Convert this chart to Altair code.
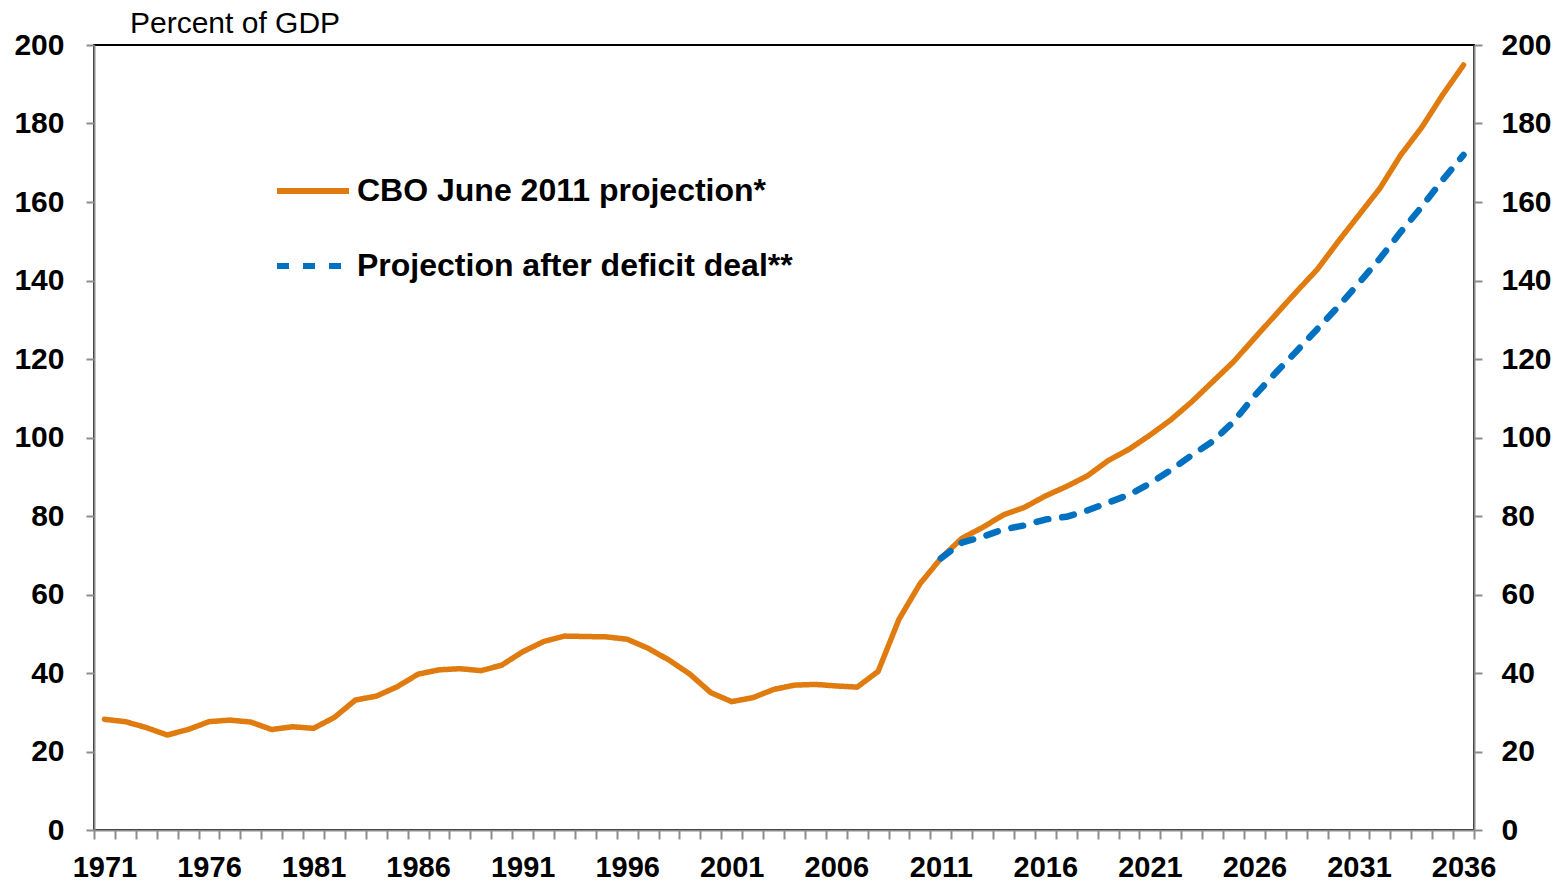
import altair as alt
import pandas as pd

years = list(range(1971, 2037))
cbo = [28.2, 27.6, 26.1, 24.2, 25.6, 27.6, 28.0, 27.5, 25.6, 26.3,
       25.9, 28.7, 33.1, 34.1, 36.5, 39.7, 40.8, 41.1, 40.6, 42.0,
       45.4, 48.0, 49.4, 49.3, 49.2, 48.6, 46.3, 43.3, 39.7, 35.0,
       32.7, 33.7, 35.8, 36.9, 37.1, 36.7, 36.4, 40.4, 53.7, 62.7,
       69.2, 74.3, 77.1, 80.3, 82.2, 85.1, 87.5, 90.2, 94.1, 97.0,
       100.6, 104.5, 109.1, 114.2, 119.3, 125.3, 131.2, 137.1, 142.8, 149.9,
       156.7, 163.5, 172.0, 179.0, 187.3, 194.9]
deal_years = list(range(2011, 2037))
deal = [69.2, 73.2, 74.7, 76.6, 77.6, 79.1, 79.8, 81.4, 83.4, 85.4,
        88.3, 91.7, 95.5, 99.0, 104.0, 110.6, 116.4, 121.9, 127.6, 133.3,
        139.4, 145.6, 152.4, 158.8, 165.6, 172.0]

s1 = "CBO June 2011 projection*"
s2 = "Projection after deficit deal**"

df1 = pd.DataFrame({"year": years, "value": cbo, "series": s1})
df2 = pd.DataFrame({"year": deal_years, "value": deal, "series": s2})

FONT = "Liberation Sans"
GRAY = "#8c8c8c"
AX_FS = 30
boundaries = [y - 0.5 for y in range(1971, 2038)]

x_enc = alt.X(
    "year:Q",
    scale=alt.Scale(domain=[1970.5, 2036.5], nice=False, zero=False),
    axis=alt.Axis(
        values=boundaries, title=None, grid=False,
        labelExpr="((datum.value + 0.5 - 1971) % 5 == 0) ? '' + (datum.value + 0.5) : ''",
        labelOffset=10.45, labelOverlap=False, labelFlush=False, labelBound=False,
        tickSize=9, tickWidth=2, tickColor=GRAY, domainColor=GRAY, domainWidth=2,
        labelFontSize=29, labelFont=FONT, labelFontWeight="bold", labelColor="black",
        labelPadding=14,
    ),
)

yscale = alt.Scale(domain=[0, 200], nice=False)
yvals = list(range(0, 201, 20))

legend_kw = dict(
    title=None, orient="none", legendX=180, legendY=107, padding=0,
    symbolType="stroke", symbolSize=5184, symbolStrokeWidth=6,
    labelFontSize=32, labelFont=FONT, labelFontWeight="bold", labelColor="black",
    labelOffset=5, rowPadding=20, labelLimit=700,
)

color = alt.Color(
    "series:N",
    scale=alt.Scale(domain=[s1, s2], range=["#E07B10", "#0070C0"]),
    legend=alt.Legend(**legend_kw),
)
dash = alt.StrokeDash(
    "series:N",
    scale=alt.Scale(domain=[s1, s2], range=[[1, 0], [12, 14]]),
    legend=alt.Legend(**legend_kw),
)

axis_common = dict(
    values=yvals, title=None, grid=False,
    tickSize=8, tickWidth=2, tickColor=GRAY, domainColor=GRAY, domainWidth=2,
    labelFontSize=AX_FS, labelFont=FONT, labelFontWeight="bold", labelColor="black",
)
left_axis = alt.Axis(orient="left", labelPadding=22, **axis_common)
right_axis = alt.Axis(orient="right", labelPadding=19, **axis_common)

orange = alt.Chart(df1).mark_line(strokeWidth=5.5, strokeJoin="round", strokeCap="round").encode(
    x=x_enc,
    y=alt.Y("value:Q", scale=yscale, axis=left_axis),
    color=color, strokeDash=dash,
)
blue = alt.Chart(df2).mark_line(strokeWidth=6.5, strokeJoin="round", strokeCap="round").encode(
    x=x_enc,
    y=alt.Y("value:Q", scale=yscale, axis=right_axis),
    color=color, strokeDash=dash,
)

chart = alt.layer(orange, blue).resolve_axis(y="independent").properties(
    width=1380, height=785,
    autosize=alt.AutoSizeParams(type="none"),
    padding={"left": 86, "top": 37, "right": 78, "bottom": 52},
    title=alt.TitleParams(
        "Percent of GDP", anchor="start", frame="group", dx=36, offset=-9,
        fontSize=30, fontWeight="normal", font=FONT, color="black",
    ),
).configure_view(stroke="black", strokeWidth=2)

chart.save("out.html", embed_options={"renderer": "svg", "actions": False})
